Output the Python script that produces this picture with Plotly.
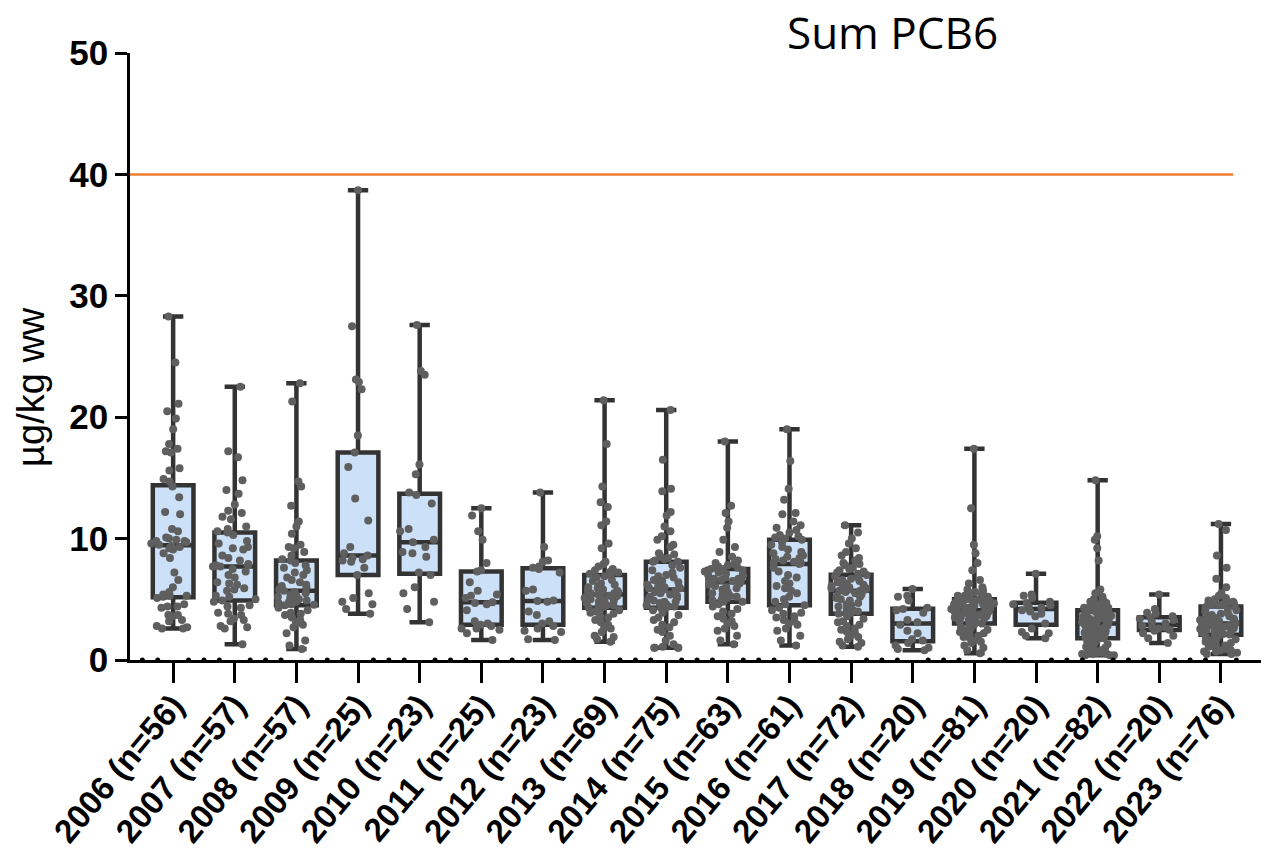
import numpy as np
import plotly.graph_objects as go

# Sum of six indicator PCBs (µg/kg wet weight), one list per sampling year
tick_labels = [
    "2006 (n=56)", "2007 (n=57)", "2008 (n=57)", "2009 (n=25)", "2010 (n=23)",
    "2011 (n=25)", "2012 (n=23)", "2013 (n=69)", "2014 (n=75)", "2015 (n=63)",
    "2016 (n=61)", "2017 (n=72)", "2018 (n=20)", "2019 (n=81)", "2020 (n=20)",
    "2021 (n=82)", "2022 (n=20)", "2023 (n=76)",
]

v2006 = [28.3, 24.5, 21.1, 20.5, 19.9, 19.0, 17.8, 17.4, 17.2, 17.1,
         15.8, 15.6, 14.9, 14.7, 14.3, 13.4, 12.2, 12.0, 10.8, 10.6,
         10.1, 10.0, 9.9, 9.8, 9.8, 9.7, 9.6, 9.5, 9.4, 9.3,
         9.2, 9.1, 8.8, 8.4, 7.2, 6.6, 6.0, 5.6, 5.4, 5.3,
         5.3, 5.2, 5.1, 4.6, 4.4, 4.4, 4.3, 3.7, 3.7, 3.6,
         3.3, 3.2, 2.8, 2.7, 2.6, 2.6]
v2007 = [22.5, 17.2, 16.7, 14.8, 14.0, 13.7, 12.8, 12.3, 12.1, 11.8,
         11.6, 11.0, 10.8, 10.6, 10.5, 10.3, 9.8, 9.6, 9.3, 9.2,
         9.1, 8.6, 8.4, 8.2, 7.9, 7.8, 7.8, 7.7, 7.7, 7.5,
         7.3, 7.0, 6.8, 6.4, 6.3, 6.2, 5.9, 5.8, 5.7, 5.3,
         5.2, 5.0, 4.9, 4.8, 4.5, 4.4, 4.3, 3.9, 3.8, 3.7,
         3.4, 3.3, 3.2, 2.8, 2.7, 2.6, 1.3]
v2008 = [22.8, 21.3, 14.7, 14.3, 12.7, 11.4, 11.0, 10.4, 9.5, 9.3,
         9.2, 8.9, 8.6, 8.3, 8.2, 8.0, 7.8, 7.6, 7.4, 7.2,
         7.0, 6.8, 6.6, 6.4, 6.2, 6.1, 6.0, 5.8, 5.7, 5.6,
         5.5, 5.4, 5.3, 5.2, 5.1, 5.0, 4.9, 4.8, 4.8, 4.7,
         4.6, 4.55, 4.5, 4.3, 4.1, 3.9, 3.8, 3.7, 3.5, 3.3,
         3.1, 2.9, 2.7, 2.2, 1.6, 1.2, 0.9]
v2009 = [38.7, 27.5, 23.1, 22.9, 22.3, 18.5, 17.1, 15.9, 13.3, 11.5,
         9.3, 8.8, 8.6, 8.4, 8.3, 8.2, 8.1, 7.6, 7.0, 5.5,
         5.1, 4.8, 4.6, 4.2, 3.8]
v2010 = [27.6, 23.8, 23.5, 16.1, 15.3, 13.8, 13.6, 12.9, 10.8, 10.6,
         9.9, 9.7, 9.3, 8.9, 8.8, 8.5, 7.2, 7.0, 6.0, 5.5,
         4.8, 4.2, 3.1]
v2011 = [12.5, 11.9, 10.6, 9.9, 8.0, 7.4, 7.3, 6.4, 5.7, 5.4,
         5.3, 5.1, 4.75, 4.7, 4.6, 4.1, 3.2, 3.0, 2.9, 2.8,
         2.6, 2.6, 2.5, 2.2, 1.65]
v2012 = [13.8, 9.3, 8.2, 8.1, 7.7, 7.6, 7.5, 7.2, 5.8, 5.7,
         4.9, 4.85, 4.8, 4.0, 3.7, 3.2, 3.0, 2.8, 2.6, 2.4,
         2.3, 1.7, 1.65]
v2013 = [21.4, 17.8, 14.3, 13.0, 12.6, 11.4, 11.1, 9.6, 9.2, 8.1,
         7.9, 7.7, 7.5, 7.4, 7.3, 7.2, 7.1, 7.0, 6.9, 6.8,
         6.6, 6.5, 6.3, 6.2, 6.1, 6.0, 5.9, 5.8, 5.7, 5.7,
         5.6, 5.6, 5.5, 5.5, 5.4, 5.3, 5.3, 5.2, 5.2, 5.1,
         5.0, 5.0, 4.9, 4.8, 4.8, 4.7, 4.6, 4.5, 4.5, 4.4,
         4.4, 4.3, 4.2, 4.1, 4.0, 3.9, 3.8, 3.6, 3.5, 3.3,
         3.1, 2.9, 2.7, 2.6, 2.3, 2.0, 1.9, 1.7, 1.5]
v2014 = [20.6, 16.5, 14.1, 13.9, 12.2, 11.9, 11.0, 10.6, 10.2, 9.9,
         9.5, 9.3, 8.8, 8.7, 8.5, 8.4, 8.3, 8.2, 8.1, 8.1,
         7.8, 7.6, 7.4, 7.2, 7.0, 6.9, 6.8, 6.6, 6.5, 6.4,
         6.3, 6.2, 6.1, 6.0, 6.0, 5.9, 5.9, 5.8, 5.7, 5.6,
         5.5, 5.4, 5.3, 5.2, 5.1, 5.0, 4.9, 4.8, 4.8, 4.7,
         4.6, 4.5, 4.5, 4.4, 4.4, 4.3, 4.3, 4.1, 3.9, 3.7,
         3.5, 3.3, 3.1, 2.9, 2.7, 2.5, 2.3, 2.0, 1.6, 1.3,
         1.1, 1.0, 1.0, 1.0, 1.0]
v2015 = [18.0, 12.7, 12.1, 11.4, 10.9, 9.9, 9.3, 8.9, 8.5, 8.2,
         8.0, 7.9, 7.8, 7.7, 7.6, 7.5, 7.5, 7.4, 7.3, 7.3,
         7.2, 7.1, 7.0, 7.0, 6.9, 6.8, 6.7, 6.7, 6.6, 6.5,
         6.5, 6.4, 6.3, 6.2, 6.1, 6.0, 5.9, 5.8, 5.6, 5.5,
         5.4, 5.3, 5.2, 5.1, 5.0, 4.9, 4.8, 4.8, 4.6, 4.4,
         4.2, 4.0, 3.8, 3.6, 3.4, 3.2, 3.0, 2.8, 2.6, 2.4,
         2.0, 1.6, 1.3]
v2016 = [19.0, 16.4, 14.1, 13.2, 12.1, 12.0, 11.4, 11.1, 10.9, 10.7,
         10.5, 10.3, 10.2, 10.1, 10.0, 9.9, 9.7, 9.5, 9.3, 9.1,
         8.9, 8.8, 8.6, 8.5, 8.4, 8.3, 8.2, 8.1, 8.0, 8.0,
         7.9, 7.6, 7.3, 7.0, 6.8, 6.5, 6.3, 6.1, 5.9, 5.7,
         5.5, 5.2, 5.0, 4.8, 4.6, 4.5, 4.3, 4.1, 3.9, 3.8,
         3.6, 3.5, 3.3, 3.2, 3.0, 2.9, 2.6, 2.4, 2.0, 1.6,
         1.2]
v2017 = [11.1, 10.5, 10.0, 9.6, 9.2, 8.9, 8.6, 8.4, 8.2, 8.0,
         7.9, 7.8, 7.6, 7.5, 7.4, 7.3, 7.2, 7.1, 7.0, 6.9,
         6.8, 6.7, 6.6, 6.5, 6.4, 6.3, 6.2, 6.1, 6.1, 6.0,
         6.0, 5.9, 5.9, 5.8, 5.8, 5.7, 5.7, 5.6, 5.5, 5.4,
         5.3, 5.2, 5.1, 5.0, 4.9, 4.7, 4.6, 4.5, 4.4, 4.2,
         4.1, 4.0, 3.9, 3.8, 3.8, 3.6, 3.4, 3.2, 3.1, 2.9,
         2.8, 2.6, 2.5, 2.3, 2.2, 2.0, 1.9, 1.7, 1.5, 1.4,
         1.2, 1.1]
v2018 = [5.85, 5.3, 5.2, 4.9, 4.3, 4.2, 4.1, 3.9, 3.3, 3.1,
         2.9, 2.4, 2.2, 1.7, 1.6, 1.4, 1.2, 1.0, 0.9, 0.8]
v2019 = [17.4, 12.5, 9.5, 8.8, 8.0, 7.4, 6.6, 6.3, 6.0, 5.8,
         5.7, 5.6, 5.5, 5.4, 5.3, 5.3, 5.2, 5.2, 5.1, 5.1,
         5.0, 4.95, 4.9, 4.85, 4.8, 4.75, 4.7, 4.65, 4.6, 4.55,
         4.5, 4.45, 4.4, 4.35, 4.3, 4.25, 4.2, 4.2, 4.15, 4.1,
         4.1, 4.0, 4.0, 3.9, 3.9, 3.8, 3.8, 3.7, 3.7, 3.6,
         3.6, 3.5, 3.5, 3.4, 3.4, 3.3, 3.3, 3.2, 3.1, 3.1,
         3.0, 2.9, 2.8, 2.7, 2.6, 2.5, 2.4, 2.3, 2.2, 2.1,
         2.0, 1.9, 1.8, 1.7, 1.6, 1.5, 1.4, 1.2, 1.0, 0.8,
         0.55]
v2020 = [7.1, 5.4, 5.3, 5.1, 4.8, 4.7, 4.6, 4.5, 4.4, 4.3,
         4.1, 4.0, 3.8, 3.6, 3.0, 2.6, 2.3, 2.2, 2.0, 1.8]
v2021 = [14.8, 10.2, 9.9, 9.2, 8.2, 5.8, 5.5, 5.2, 5.0, 4.9,
         4.8, 4.7, 4.6, 4.5, 4.4, 4.4, 4.3, 4.3, 4.2, 4.2,
         4.1, 4.1, 4.0, 3.95, 3.9, 3.85, 3.8, 3.7, 3.65, 3.6,
         3.5, 3.45, 3.4, 3.35, 3.3, 3.25, 3.2, 3.15, 3.1, 3.05,
         3.0, 3.0, 2.9, 2.85, 2.8, 2.7, 2.65, 2.6, 2.5, 2.45,
         2.4, 2.3, 2.25, 2.2, 2.1, 2.05, 2.0, 1.95, 1.9, 1.85,
         1.8, 1.8, 1.7, 1.6, 1.5, 1.4, 1.3, 1.2, 1.1, 1.0,
         0.9, 0.8, 0.7, 0.7, 0.6, 0.6, 0.5, 0.5, 0.5, 0.4,
         0.4, 0.4]
v2022 = [5.4, 4.2, 3.9, 3.8, 3.6, 3.5, 3.4, 3.3, 3.1, 3.0,
         2.8, 2.7, 2.7, 2.6, 2.5, 2.4, 2.2, 2.0, 1.8, 1.4]
v2023 = [11.2, 10.7, 8.6, 7.6, 6.7, 6.0, 5.5, 5.3, 5.1, 5.0,
         4.9, 4.8, 4.8, 4.7, 4.7, 4.6, 4.6, 4.5, 4.45, 4.4,
         4.3, 4.2, 4.1, 4.0, 3.9, 3.8, 3.7, 3.6, 3.5, 3.45,
         3.4, 3.35, 3.3, 3.25, 3.2, 3.15, 3.1, 3.05, 2.95, 2.9,
         2.85, 2.8, 2.75, 2.7, 2.65, 2.6, 2.55, 2.5, 2.45, 2.4,
         2.35, 2.3, 2.25, 2.2, 2.15, 2.1, 2.1, 2.0, 1.9, 1.8,
         1.7, 1.6, 1.5, 1.4, 1.3, 1.2, 1.1, 1.0, 0.9, 0.8,
         0.8, 0.7, 0.7, 0.6, 0.5, 0.5]

groups = [v2006, v2007, v2008, v2009, v2010, v2011, v2012, v2013, v2014,
          v2015, v2016, v2017, v2018, v2019, v2020, v2021, v2022, v2023]

limit_value = 40  # maximum level, drawn as a reference line
y_ticks = [0, 10, 20, 30, 40, 50]

BOX_FILL = "#cce0f7"
BOX_LINE = "#333333"
POINT = "#5f5f5f"
LIMIT = "#ed7d31"
BOLD_FONT = "Liberation Sans, Arial, sans-serif"
TITLE_FONT = "Liberation Sans, Arial, sans-serif"
BOX_W = 0.66

positions = list(range(len(groups)))
fig = go.Figure()

# Boxes: quartiles from the samples, whiskers running to min and max
for i, vals in zip(positions, groups):
    arr = np.asarray(vals, dtype=float)
    q1, med, q3 = np.percentile(arr, [25, 50, 75])
    fig.add_trace(go.Box(
        x=[i], q1=[q1], median=[med], q3=[q3],
        lowerfence=[arr.min()], upperfence=[arr.max()],
        width=BOX_W, whiskerwidth=0.5,
        fillcolor=BOX_FILL, line=dict(color=BOX_LINE, width=4.5),
        boxpoints=False, showlegend=False, hoverinfo="skip",
    ))

# Every sample as a jittered dot on top of the boxes
for i, vals in zip(positions, groups):
    fig.add_trace(go.Box(
        y=vals, x0=i, width=0.76,
        boxpoints="all", jitter=1.0, pointpos=0,
        fillcolor="rgba(0,0,0,0)",
        line=dict(color="rgba(0,0,0,0)", width=0),
        marker=dict(color=POINT, size=8, opacity=1),
        showlegend=False, hoveron="points",
    ))

# Small dots along the category axis between the major ticks
minor = [k / 4 for k in range(-2, 4 * len(groups) - 2) if k % 4 != 0]
fig.add_trace(go.Scatter(
    x=minor, y=[0] * len(minor), mode="markers",
    marker=dict(color="black", size=5),
    cliponaxis=False, showlegend=False, hoverinfo="skip",
))

x_lo, x_hi = -0.7, len(groups) - 0.35
fig.add_shape(type="line", xref="x", yref="y",
              x0=x_lo, x1=len(groups) - 0.8, y0=limit_value, y1=limit_value,
              line=dict(color=LIMIT, width=2.5), layer="below")

fig.add_annotation(text="Sum PCB6", xref="paper", yref="paper",
                   x=0.6746, y=1.035, xanchor="center", yanchor="middle",
                   showarrow=False,
                   font=dict(family="Open Sans, sans-serif", size=44, color="black"))
fig.add_annotation(text="µg/kg ww", xref="paper", yref="paper",
                   x=-0.0875, y=0.45, xanchor="center", yanchor="middle",
                   textangle=-90, showarrow=False,
                   font=dict(family=TITLE_FONT, size=38, color="black"))

fig.update_layout(
    width=1261, height=862,
    template="none",
    paper_bgcolor="white", plot_bgcolor="white",
    margin=dict(l=130, r=0, t=53, b=202, pad=0),
    boxmode="overlay",
    showlegend=False,
    xaxis=dict(
        range=[x_lo, x_hi], tickmode="array",
        tickvals=positions, ticktext=tick_labels, tickangle=-50,
        ticks="outside", ticklen=20, tickwidth=2.5, tickcolor="black",
        showline=True, linecolor="black", linewidth=2.5,
        showgrid=False, zeroline=False, automargin=False,
        ticklabelstandoff=-10,
        tickfont=dict(family=BOLD_FONT, size=33, color="black", weight="bold"),
    ),
    yaxis=dict(
        range=[0, 50], tickmode="array", tickvals=y_ticks,
        ticks="outside", ticklen=12, tickwidth=2.5, tickcolor="black",
        showline=True, linecolor="black", linewidth=2.5,
        showgrid=False, zeroline=False, automargin=False,
        tickfont=dict(family=BOLD_FONT, size=35, color="black", weight="bold"),
    ),
)

fig.write_html("out.html")
